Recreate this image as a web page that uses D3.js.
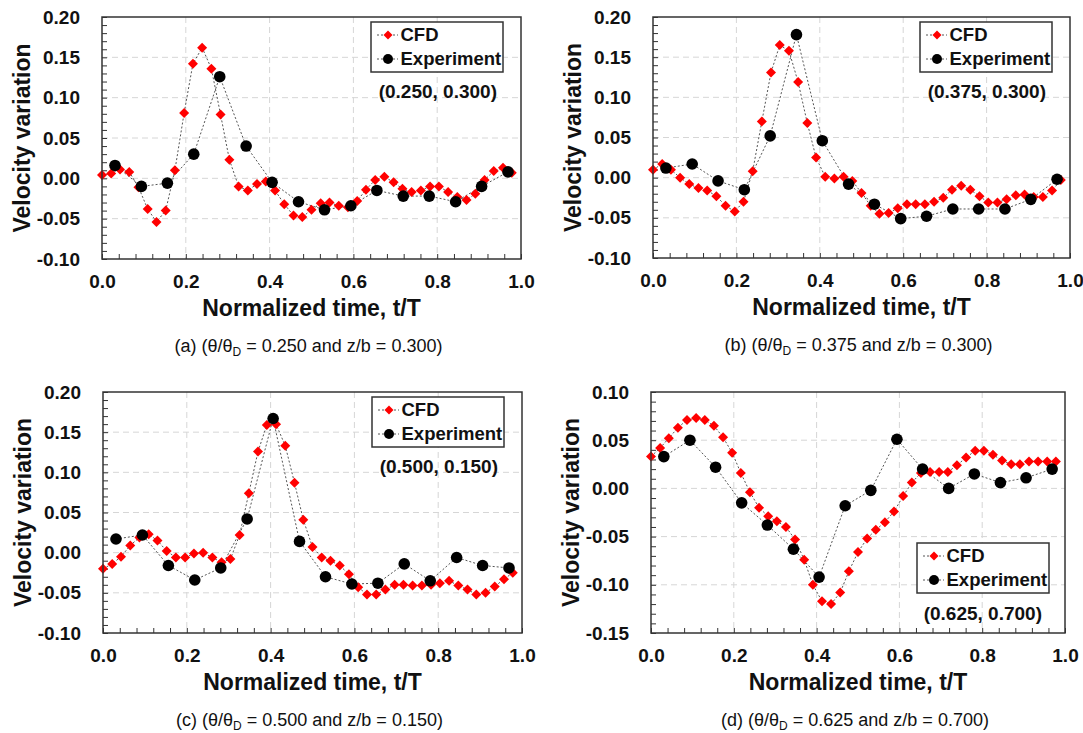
<!DOCTYPE html>
<html>
<head>
<meta charset="utf-8">
<script src="https://cdn.jsdelivr.net/npm/d3@7"></script>
<style>
body { margin: 0; background: #fff; }
text { font-family: Arial, "Liberation Sans", sans-serif; fill: #111; }
</style>
</head>
<body>
<div id="chart"></div>
<script>
// normalized time of the samples
const tCfd = [0.000, 0.022, 0.043, 0.065, 0.087, 0.109, 0.130, 0.152, 0.174, 0.196,
  0.217, 0.239, 0.261, 0.283, 0.304, 0.326, 0.348, 0.370, 0.391, 0.413,
  0.435, 0.457, 0.478, 0.500, 0.522, 0.543, 0.565, 0.587, 0.609, 0.630,
  0.652, 0.674, 0.696, 0.717, 0.739, 0.761, 0.783, 0.804, 0.826, 0.848,
  0.870, 0.891, 0.913, 0.935, 0.957, 0.978];
const tExp = [0.031, 0.094, 0.156, 0.219, 0.281, 0.344, 0.406, 0.469,
  0.531, 0.594, 0.656, 0.719, 0.781, 0.844, 0.906, 0.969];

// (a)
const cfdA = [0.004, 0.006, 0.011, 0.008, -0.011, -0.038, -0.054, -0.040, 0.010, 0.081,
  0.142, 0.162, 0.136, 0.079, 0.023, -0.010, -0.015, -0.007, -0.004, -0.015,
  -0.032, -0.046, -0.048, -0.039, -0.031, -0.030, -0.034, -0.036, -0.028, -0.014,
  -0.002, 0.002, -0.005, -0.013, -0.017, -0.015, -0.010, -0.010, -0.017, -0.023,
  -0.027, -0.019, -0.002, 0.009, 0.013, 0.007];
const expA = [0.016, -0.010, -0.006, 0.030, 0.126, 0.040, -0.005, -0.029,
  -0.039, -0.034, -0.015, -0.022, -0.022, -0.029, -0.010, 0.008];

// (b)
const cfdB = [0.010, 0.017, 0.010, 0.000, -0.008, -0.013, -0.016, -0.023, -0.035, -0.042,
  -0.030, 0.008, 0.070, 0.131, 0.165, 0.158, 0.119, 0.068, 0.025, 0.001,
  -0.001, 0.001, -0.004, -0.019, -0.035, -0.045, -0.044, -0.038, -0.033, -0.033,
  -0.033, -0.030, -0.025, -0.015, -0.010, -0.015, -0.023, -0.031, -0.031, -0.027,
  -0.022, -0.021, -0.024, -0.024, -0.016, -0.003];
const expB = [0.012, 0.017, -0.004, -0.015, 0.052, 0.178, 0.046, -0.008,
  -0.033, -0.051, -0.048, -0.039, -0.039, -0.039, -0.027, -0.002];

// (c)
const cfdC = [-0.020, -0.014, -0.005, 0.009, 0.019, 0.023, 0.015, 0.002, -0.006, -0.006,
  -0.001, 0.000, -0.006, -0.012, -0.008, 0.022, 0.074, 0.126, 0.159, 0.160,
  0.133, 0.087, 0.041, 0.007, -0.006, -0.010, -0.016, -0.027, -0.043, -0.052,
  -0.052, -0.046, -0.040, -0.040, -0.041, -0.041, -0.040, -0.038, -0.035, -0.041,
  -0.046, -0.052, -0.050, -0.042, -0.033, -0.025];
const expC = [0.017, 0.022, -0.016, -0.034, -0.019, 0.042, 0.167, 0.014,
  -0.030, -0.039, -0.038, -0.014, -0.035, -0.006, -0.016, -0.019];

// (d)
const cfdD = [0.033, 0.042, 0.052, 0.063, 0.071, 0.073, 0.071, 0.065, 0.053, 0.037,
  0.016, -0.004, -0.020, -0.029, -0.034, -0.040, -0.053, -0.074, -0.100, -0.117,
  -0.120, -0.108, -0.086, -0.066, -0.052, -0.043, -0.035, -0.024, -0.008, 0.006,
  0.016, 0.017, 0.017, 0.017, 0.024, 0.032, 0.039, 0.039, 0.035, 0.029,
  0.025, 0.025, 0.028, 0.028, 0.028, 0.028];
const expD = [0.033, 0.050, 0.022, -0.015, -0.038, -0.063, -0.092, -0.018,
  -0.002, 0.051, 0.020, 0.000, 0.015, 0.006, 0.011, 0.020];

const xTicks = [0, 0.2, 0.4, 0.6, 0.8, 1.0];
const yTicksTop = [-0.10, -0.05, 0.00, 0.05, 0.10, 0.15, 0.20];
const yTicksD = [-0.15, -0.10, -0.05, 0.00, 0.05, 0.10];
const seriesNames = ["CFD", "Experiment"];
const locLabels = ["(0.250, 0.300)", "(0.375, 0.300)", "(0.500, 0.150)", "(0.625, 0.700)"];
const capLetters = ["(a)", "(b)", "(c)", "(d)"];
const capTheta = ["0.250", "0.375", "0.500", "0.625"];
const capZ = ["0.300", "0.300", "0.150", "0.700"];

const panels = [
  {cfd: cfdA, exp: expA, yTicks: yTicksTop, box: [102, 521, 17, 259], legend: "top"},
  {cfd: cfdB, exp: expB, yTicks: yTicksTop, box: [653, 1070, 17, 258], legend: "top"},
  {cfd: cfdC, exp: expC, yTicks: yTicksTop, box: [103, 522, 392, 633], legend: "top"},
  {cfd: cfdD, exp: expD, yTicks: yTicksD, box: [651, 1065, 392, 633], legend: "bottom"}
];

const svg = d3.select("#chart").append("svg")
  .attr("width", 1083).attr("height", 733)
  .style("background", "#fff");

const red = "#ff0000";
const diamond = "M0,-5L5,0L0,5L-5,0Z";
const diamondSm = "M0,-4.5L4.5,0L0,4.5L-4.5,0Z";

panels.forEach(function(p, k) {
  const [x0, x1, y0, y1] = p.box;
  const yDom = d3.extent(p.yTicks);
  const x = d3.scaleLinear().domain([0, 1]).range([x0, x1]);
  const y = d3.scaleLinear().domain(yDom).range([y1, y0]);
  const g = svg.append("g");

  // grid
  g.selectAll(".gx").data(xTicks.slice(1, -1)).enter().append("line")
    .attr("x1", d => x(d)).attr("x2", d => x(d)).attr("y1", y0).attr("y2", y1)
    .attr("stroke", "#d6d6d6").attr("stroke-dasharray", "6,4");
  g.selectAll(".gy").data(p.yTicks.slice(1, -1)).enter().append("line")
    .attr("x1", x0).attr("x2", x1).attr("y1", d => y(d)).attr("y2", d => y(d))
    .attr("stroke", "#d6d6d6").attr("stroke-dasharray", "6,4");

  // inner ticks
  const yMinor = d3.range(Math.round(yDom[0] * 100), Math.round(yDom[1] * 100) + 1).map(v => v / 100);
  const xMinor = d3.range(0, 26).map(v => v * 0.04);
  g.append("g").attr("transform", "translate(" + x0 + ",0)")
    .call(d3.axisLeft(y).tickValues(yMinor).tickSize(-5).tickFormat(""))
    .call(a => a.select(".domain").remove())
    .selectAll("line").attr("stroke", "#333");
  g.append("g").attr("transform", "translate(0," + y1 + ")")
    .call(d3.axisBottom(x).tickValues(xMinor).tickSize(-5).tickFormat(""))
    .call(a => a.select(".domain").remove())
    .selectAll("line").attr("stroke", "#333");

  // tick labels
  g.append("g").attr("transform", "translate(" + x0 + ",0)")
    .call(d3.axisLeft(y).tickValues(p.yTicks).tickSize(0).tickPadding(22).tickFormat(d => d.toFixed(2)))
    .call(a => a.select(".domain").remove())
    .selectAll("text").attr("font-size", 19).attr("font-weight", "bold").attr("fill", "#111")
    .attr("font-family", "Arial, 'Liberation Sans', sans-serif");
  g.append("g").attr("transform", "translate(0," + y1 + ")")
    .call(d3.axisBottom(x).tickValues(xTicks).tickSize(0).tickPadding(16).tickFormat(d => d.toFixed(1)))
    .call(a => a.select(".domain").remove())
    .selectAll("text").attr("font-size", 19).attr("font-weight", "bold").attr("fill", "#111")
    .attr("font-family", "Arial, 'Liberation Sans', sans-serif");

  // axis titles
  g.append("text")
    .attr("transform", "translate(" + (x0 - 72) + "," + ((y0 + y1) / 2) + ") rotate(-90)")
    .attr("text-anchor", "middle").attr("font-size", 23).attr("font-weight", "bold")
    .text("Velocity variation");
  g.append("text")
    .attr("x", (x0 + x1) / 2).attr("y", y1 + 57)
    .attr("text-anchor", "middle").attr("font-size", 23).attr("font-weight", "bold")
    .text("Normalized time, t/T");

  // lines
  const line = d3.line().x(d => x(d[0])).y(d => y(d[1]));
  const cfdPts = tCfd.map((t, i) => [t, p.cfd[i]]);
  const expPts = tExp.map((t, i) => [t, p.exp[i]]);
  g.append("path").datum(cfdPts).attr("d", line).attr("fill", "none")
    .attr("stroke", "#555").attr("stroke-width", 1).attr("stroke-dasharray", "2,2");
  g.append("path").datum(expPts).attr("d", line).attr("fill", "none")
    .attr("stroke", "#555").attr("stroke-width", 1).attr("stroke-dasharray", "2,2");

  g.selectAll(".cfd").data(cfdPts).enter().append("path")
    .attr("transform", d => "translate(" + x(d[0]) + "," + y(d[1]) + ")")
    .attr("d", diamond).attr("fill", red);
  g.selectAll(".exp").data(expPts).enter().append("circle")
    .attr("cx", d => x(d[0])).attr("cy", d => y(d[1])).attr("r", 5.8).attr("fill", "#000");

  // frame
  g.append("rect").attr("x", x0).attr("y", y0).attr("width", x1 - x0).attr("height", y1 - y0)
    .attr("fill", "none").attr("stroke", "#333").attr("stroke-width", 1.5);

  // legend
  let lx, ly, ax, ay;
  if (p.legend === "top") { lx = x1 - 150; ly = y0 + 5; ax = x1 - 24; ay = y0 + 74; }
  else { lx = x1 - 148; ly = y1 - 90; ax = x1 - 23; ay = y1 - 20; }
  const lg = g.append("g").attr("transform", "translate(" + lx + "," + ly + ")");
  lg.append("rect").attr("width", 132).attr("height", 50)
    .attr("fill", "#fff").attr("stroke", "#333").attr("stroke-width", 1.5);
  seriesNames.forEach(function(name, j) {
    const ry = 13 + j * 24;
    lg.append("line").attr("x1", 6).attr("x2", 27).attr("y1", ry).attr("y2", ry)
      .attr("stroke", "#555").attr("stroke-dasharray", "2,2");
    if (j === 0) lg.append("path").attr("transform", "translate(17," + ry + ")").attr("d", diamondSm).attr("fill", red);
    else lg.append("circle").attr("cx", 17).attr("cy", ry).attr("r", 5).attr("fill", "#000");
    lg.append("text").attr("x", 29.5).attr("y", ry).attr("dy", "0.35em")
      .attr("font-size", 18.5).attr("font-weight", "bold").text(name);
  });
  g.append("text").attr("x", ax).attr("y", ay).attr("dy", "0.35em")
    .attr("text-anchor", "end").attr("font-size", 19).attr("font-weight", "bold")
    .text(locLabels[k]);

  // caption
  const cap = g.append("text").attr("x", (x0 + x1) / 2 - 3).attr("y", y1 + 93)
    .attr("text-anchor", "middle").attr("font-size", 18);
  cap.append("tspan").text(capLetters[k] + " (\u03b8/\u03b8");
  cap.append("tspan").attr("font-size", 12).attr("dy", 4).text("D");
  cap.append("tspan").attr("dy", -4).text(" = " + capTheta[k] + " and z/b = " + capZ[k] + ")");
});
</script>
</body>
</html>
